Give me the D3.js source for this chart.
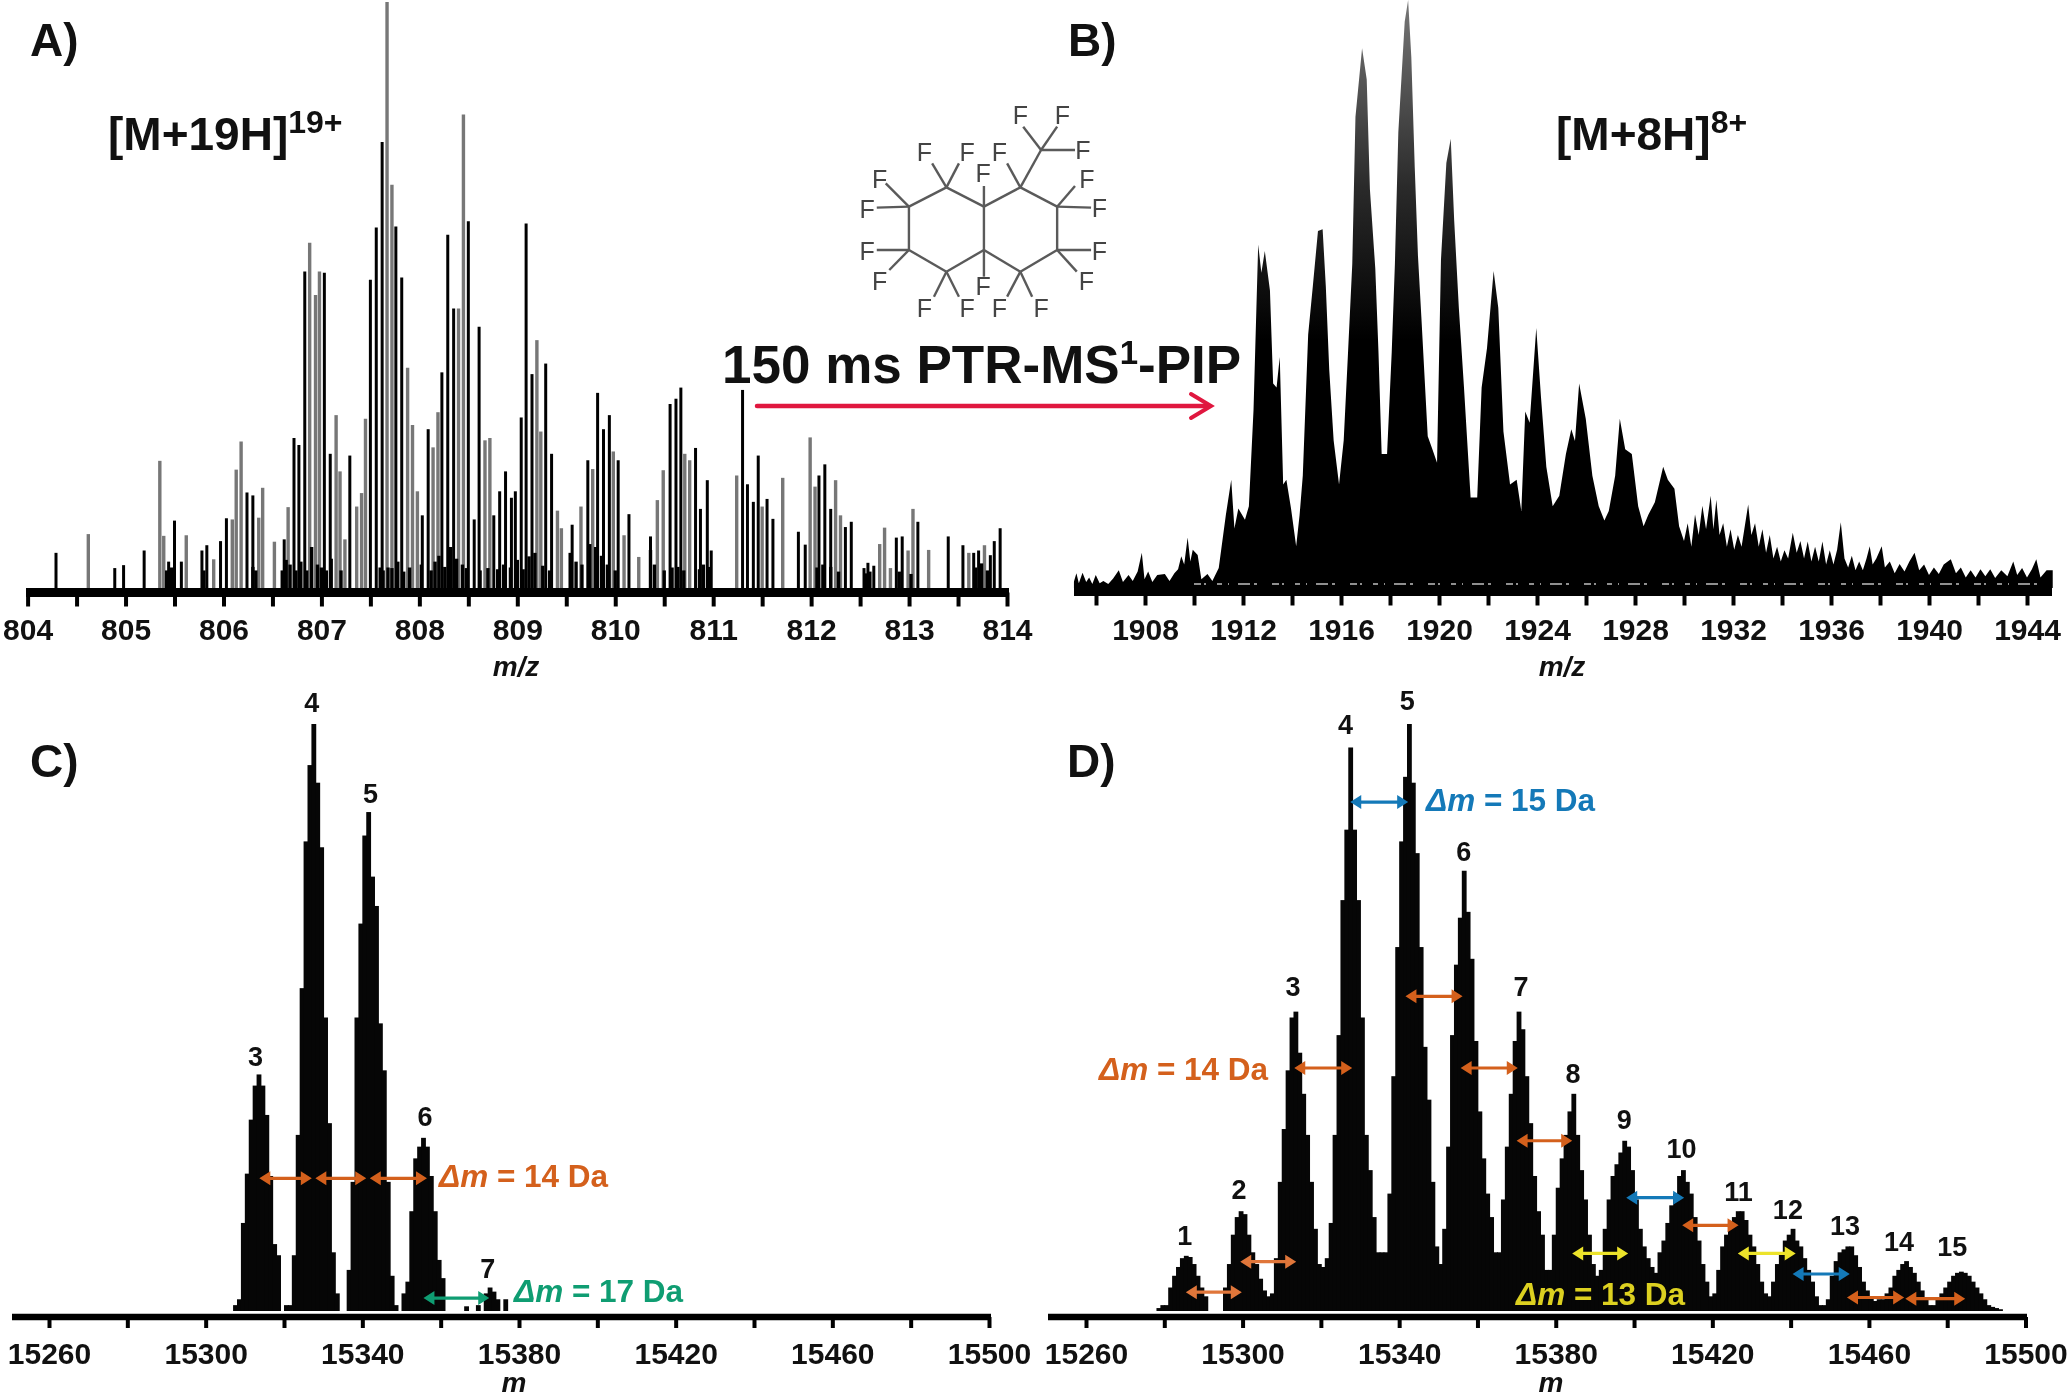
<!DOCTYPE html>
<html><head><meta charset="utf-8">
<script src="https://cdn.jsdelivr.net/npm/d3@7"></script>
<style>
html,body{margin:0;padding:0;background:#fff}
svg{display:block;filter:blur(0.75px)}
text{font-family:"Liberation Sans",Arial,sans-serif;font-weight:bold;fill:#111}
</style></head><body><div id="chart"></div>
<script>
// ---------- Panel A: centroid sticks [m/z, relative intensity]
const sticksBlackA=[[804.29,6],[804.89,3.4],[804.98,3.9],[805.19,6.4],[805.44,4.5],[805.5,11.5],[805.57,4.5],[805.78,6.4],[805.83,7.3],[805.97,8],[806.03,11.9],[806.24,16.3],[806.3,15.8],[806.62,8.3],[806.72,25.6],[806.77,24.4],[806.83,54],[807.03,53.8],[807.09,22.9],[807.29,22.6],[807.5,52.6],[807.56,61.5],[807.62,76.1],[807.76,61.7],[807.82,53],[808.03,12.4],[808.09,27.1],[808.23,36.8],[808.29,60.3],[808.35,47.7],[808.5,62.6],[808.56,11.7],[808.61,44.6],[808.76,12.4],[808.82,16.5],[808.88,19.9],[808.94,15.4],[808.98,16.5],[809.04,29.1],[809.09,62.2],[809.15,36.5],[809.29,38.3],[809.35,22.9],[809.56,10.8],[809.72,21.8],[809.82,33.3],[809.88,27.1],[809.94,29.5],[810.03,21.8],[810.14,12.6],[810.36,8.8],[810.56,31.4],[810.62,32.3],[810.67,34.2],[810.82,23.9],[810.87,13.5],[810.94,18.4],[810.98,6.4],[811.3,33.8],[811.35,17.7],[811.41,14.7],[811.46,22.6],[811.55,15.2],[811.61,11.8],[811.87,9.6],[811.94,7.4],[812.08,19.2],[812.14,21.1],[812.2,13.5],[812.35,10.4],[812.41,11.3],[812.54,3.4],[812.58,4.3],[812.64,3.8],[812.87,8.6],[812.93,8.8],[813.09,11.3],[813.4,8.8],[813.55,7.3],[813.66,6],[813.71,6.4],[813.83,5.6],[813.87,8],[813.93,10.2]];
const sticksGrayA=[[804.62,9.2],[805.35,21.7],[805.39,8.9],[805.62,9],[805.9,4.9],[806.09,11.7],[806.13,20.2],[806.18,25],[806.36,12],[806.4,17.1],[806.52,7.9],[806.66,13.8],[806.88,58.9],[806.94,50],[806.98,54],[807.15,29.5],[807.19,19.9],[807.24,8.3],[807.36,13.9],[807.41,16.2],[807.45,28.9],[807.67,100],[807.72,68.8],[807.88,37.6],[807.93,27.8],[807.98,16.5],[808.14,24],[808.19,30],[808.4,47.7],[808.45,80.8],[808.67,25.2],[808.72,25.6],[809.2,42.3],[809.24,26.7],[809.41,13.2],[809.45,10.2],[809.65,13.9],[809.77,20.3],[809.98,23.3],[810.09,9],[810.24,5.3],[810.43,15],[810.49,20.1],[810.71,22.9],[810.76,21.8],[811.24,19.2],[811.5,13.9],[811.71,18.8],[811.99,25.7],[812.04,17.3],[812.25,18.4],[812.3,12.4],[812.7,7.5],[812.75,10.3],[812.81,3.4],[812.99,6.4],[813.04,13.5],[813.2,6.5],[813.61,6],[813.77,7.3]];
const sticksLowA=[[805.42,3],[805.47,3.5],[805.8,3],[806.3,3.6],[806.33,3],[806.6,3],[806.64,4.8],[806.68,4],[806.74,3],[806.79,4.5],[806.85,3],[806.9,7],[806.96,4],[807,3.5],[807.05,3],[807.1,5],[807.2,3],[807.6,3.5],[807.63,3],[807.68,3.5],[807.72,3.4],[807.78,4.5],[807.84,2.8],[807.9,3.5],[808.02,4],[808.12,3],[808.16,4.5],[808.2,5.5],[808.26,3.6],[808.32,7],[808.38,5],[808.44,4],[808.48,3.4],[808.62,3],[808.7,3.4],[808.8,3.2],[808.86,4],[808.93,3.5],[809,4.8],[809.06,3.2],[809.12,5.4],[809.18,6],[809.26,3.8],[809.33,3],[809.54,6],[809.6,4.5],[809.66,4],[809.74,7.5],[809.8,7],[809.86,5.5],[809.92,4],[810,3],[810.36,6.5],[810.4,4],[810.5,3],[810.58,3.5],[810.64,3.6],[810.7,3],[810.86,3.2],[810.9,4],[810.96,3.6],[812.06,3.5],[812.12,4],[812.2,3.6],[812.28,2.8],[812.56,2.5],[812.6,2.8],[812.9,2.8],[813.02,2.4],[813.68,3.5],[813.74,4.2],[813.8,3]];
const ticksA=[804,804.5,805,805.5,806,806.5,807,807.5,808,808.5,809,809.5,810,810.5,811,811.5,812,812.5,813,813.5,814];
const tickLabelsA=["804","","805","","806","","807","","808","","809","","810","","811","","812","","813","","814"];

// ---------- Panel B: profile spectrum outline [m/z, relative intensity]
const profileB=[[1905.1,1.1],[1905.2,2.5],[1905.3,0.8],[1905.45,2.6],[1905.6,1],[1905.72,1.8],[1905.85,0.7],[1905.99,2.2],[1906.15,0.8],[1906.3,1.2],[1906.5,0.7],[1906.7,1.6],[1906.93,3],[1907.1,1],[1907.33,2.2],[1907.5,1.2],[1907.7,2.8],[1907.87,6],[1907.98,1.5],[1908.13,2.8],[1908.3,1],[1908.5,2.2],[1908.81,2.4],[1909,1.2],[1909.2,2.5],[1909.35,3.2],[1909.48,5.4],[1909.6,4],[1909.74,8.6],[1909.85,4.5],[1909.95,6.5],[1910.15,5.6],[1910.3,1.5],[1910.55,2.4],[1910.75,1.2],[1911.01,3.4],[1911.3,12.4],[1911.52,18.4],[1911.65,10.1],[1911.81,13.5],[1912.08,11.6],[1912.24,13.9],[1912.43,30.3],[1912.62,58.4],[1912.75,53.6],[1912.89,57.3],[1913.1,50.6],[1913.23,34.8],[1913.37,34.1],[1913.5,39.3],[1913.64,17.6],[1913.77,18.4],[1913.96,13.5],[1914.17,7.1],[1914.31,12.4],[1914.44,19.1],[1914.66,43.1],[1914.85,51.3],[1915.06,60.7],[1915.25,61],[1915.38,51.3],[1915.52,37.1],[1915.7,25.1],[1915.92,17.6],[1916.11,25.1],[1916.27,38.6],[1916.46,55.1],[1916.59,80.1],[1916.86,91.8],[1917.05,86.5],[1917.18,67.8],[1917.4,54.3],[1917.53,40.1],[1917.66,22.8],[1917.88,22.8],[1918.07,40.1],[1918.2,55.1],[1918.34,77.5],[1918.6,96.3],[1918.74,100],[1918.87,90.3],[1919.01,71.5],[1919.14,56.6],[1919.28,46.1],[1919.54,25.8],[1919.73,23.6],[1919.92,21.3],[1920.08,55.8],[1920.3,72.3],[1920.48,76.4],[1920.62,62.5],[1920.81,47.6],[1921.02,34.1],[1921.29,15.4],[1921.56,15.4],[1921.74,34.1],[1921.96,40.8],[1922.23,53.9],[1922.42,47.6],[1922.63,26.6],[1922.9,17.6],[1923.17,18.4],[1923.36,13.1],[1923.52,30],[1923.7,28.1],[1923.97,44.2],[1924.16,32.6],[1924.38,20.6],[1924.64,13.9],[1924.91,15.7],[1925.18,22.8],[1925.4,27],[1925.55,25],[1925.72,34.8],[1925.99,28.8],[1926.26,19.1],[1926.52,13.9],[1926.75,11.5],[1926.93,13.1],[1927.19,19.1],[1927.38,28.8],[1927.6,23.6],[1927.87,22.8],[1928.13,13.9],[1928.35,10.5],[1928.54,12.4],[1928.81,14.6],[1929.15,20.6],[1929.34,18.4],[1929.61,16.9],[1929.8,10.5],[1930,8],[1930.15,11],[1930.3,7],[1930.45,12.5],[1930.6,9],[1930.75,14],[1930.9,10],[1931.09,15.7],[1931.2,10],[1931.32,15],[1931.45,9],[1931.6,11],[1931.75,7],[1931.9,10],[1932.05,6.5],[1932.2,9],[1932.35,7],[1932.5,11],[1932.62,14.2],[1932.75,9],[1932.9,11],[1933.05,7],[1933.2,10],[1933.35,6],[1933.5,9],[1933.65,5],[1933.8,7],[1933.95,4.5],[1934.1,6.4],[1934.25,5],[1934.44,9.4],[1934.6,6],[1934.75,8],[1934.9,5],[1935.05,7.9],[1935.2,4.5],[1935.35,7],[1935.5,4.5],[1935.65,7.9],[1935.8,4],[1935.95,6.4],[1936.1,4],[1936.25,6.5],[1936.4,11.2],[1936.55,5],[1936.7,3.5],[1936.85,5.5],[1937,3],[1937.15,4.5],[1937.3,3],[1937.45,5],[1937.58,7.1],[1937.7,4],[1937.85,5],[1938.07,7.1],[1938.2,3.5],[1938.4,4.5],[1938.6,2.5],[1938.8,4.1],[1939,2.8],[1939.2,4.5],[1939.41,6],[1939.6,3],[1939.8,4],[1940,2.2],[1940.2,3.5],[1940.4,2.4],[1940.6,4],[1940.89,4.9],[1941.1,2.5],[1941.3,3.5],[1941.5,1.8],[1941.7,3],[1941.9,1.8],[1942.1,3.2],[1942.3,2],[1942.5,3.2],[1942.7,1.7],[1942.95,3],[1943.2,2],[1943.44,4.5],[1943.6,2.2],[1943.8,3.4],[1944,1.8],[1944.2,3.2],[1944.38,4.9],[1944.55,1.8],[1944.8,3],[1945.05,3]];
const ticksB=[1906,1908,1910,1912,1914,1916,1918,1920,1922,1924,1926,1928,1930,1932,1934,1936,1938,1940,1942,1944];
const tickLabelsB=["","1908","","1912","","1916","","1920","","1924","","1928","","1932","","1936","","1940","","1944"];

// ---------- Panels C / D: deconvoluted mass spectra, one value per integer mass
const massesC=[15307,15308,15309,15310,15311,15312,15313,15314,15315,15316,15317,15318,15319,15320,15321,15322,15323,15324,15325,15326,15327,15328,15329,15330,15331,15332,15333,15336,15337,15338,15339,15340,15341,15342,15343,15344,15345,15346,15347,15348,15350,15351,15352,15353,15354,15355,15356,15357,15358,15359,15360,15366,15369,15371,15372,15373,15374,15376];
const valuesC=[1,2,15,23.4,32.6,38.4,40.3,38.4,33.4,23,11.4,9.5,0,1,1,9.5,30,55,80,93,100,90,79,50,32,10,3,7,22,50,66,81,85,74,69,49,41,22,6,1,3,5,17,26,28,29.5,28,23,17,8.7,5.6,0.8,1,3,4,3.3,2,2];
const massStartD=15278;
const valuesD=[0.5,1,1,4,6,7.5,9,9.4,9.2,8,6,4,2.5,0,0,0,0,4,8,13,16,17,16.5,13,10,8,5.5,3.5,2.5,3,9,22,31,41,50,51,44,37,30,22,14,8,7.5,9,15,30,47,70,82,96,82,70,50,30,24,16,10,10,10,20,40,62,80,91,100,90,78,62,45,36,22,11,8,14,28,47,59,67,75,68,60,46,34,26,20,16,10,10,19,28,37,46,51,48,40,32,23,17,13,7,7,13,21,26,30,34,37,30,24,19,13,8,6,7,14,19,23,25,27,29,28,24,19,14,11,9,7.5,6.5,10,12,15,18,20,23,24,22,20,16,12,8,5,2.5,3,7,11,13,15,16,17,17,15.5,13,11,8,5,3,2.5,5,8,10,12,13,14,12,11,9,7,5,2.5,1,1,2,6,8.5,10,10.5,11,11,9.5,7.5,5,3.5,2.5,1.7,2,2,3,4,6,7,8,8.5,7.5,6.5,5,3.5,2,1,1,2,3,4,5,6,6.5,6.7,6.5,6,5,4,3,2,1,0.7,0.5,0.3];
const ticksM=[15260,15280,15300,15320,15340,15360,15380,15400,15420,15440,15460,15480,15500];
const tickLabelsM=["15260","","15300","","15340","","15380","","15420","","15460","","15500"];

// peak number labels: text, mass, intensity level
const labelTextC=["3","4","5","6","7"];
const labelMassC=[15312.7,15327.1,15342.1,15356,15372];
const labelLevelC=[41.8,102,86.5,31.5,5.6];
const labelTextD=["1","2","3","4","5","6","7","8","9","10","11","12","13","14","15"];
const labelMassD=[15285.2,15299.1,15312.9,15326.3,15342.1,15356.5,15371.1,15384.4,15397.5,15412.1,15426.7,15439.3,15453.9,15467.7,15481.3];
const labelLevelD=[11.3,19,53.6,98.3,102.3,76.7,53.6,38.9,31,26,18.7,15.6,12.9,10.2,9.4];

// mass-difference arrows: from, to, level, colour key
const arrowsC=[[15313.7,15327.1,22.6,"o"],[15328,15341,22.6,"o"],[15341.9,15356.5,22.6,"o"],[15355.6,15372.4,2.2,"g"]];
const arrowsD=[[15285.5,15299.8,3.2,"l"],[15299.4,15313.7,8.4,"l"],[15313.2,15328,41.4,"o"],[15341.6,15356.2,53.6,"o"],[15355.7,15370.3,41.4,"o"],[15370,15384.2,29,"o"],[15412.3,15426.7,14.6,"o"],[15454.4,15469,2.3,"o"],[15469.3,15484.6,2.1,"o"],[15327.5,15342.3,86.7,"b"],[15398,15412.8,19.3,"b"],[15440.5,15455.1,6.3,"b"],[15384.2,15398.5,9.8,"y"],[15426.5,15441.3,9.8,"y"]];
const arrowColours={o:"#d4601c",l:"#e0763a",g:"#0f9d72",b:"#1479b8",y:"#ece32a"};

// ---------- Perfluorodecalin sketch (bonds between atoms, fluorine ends)
const ringAtoms=[[690,322],[795,380],[897,322],[1000,380],[1000,510],[897,575],[795,510],[690,575],[585,510],[585,380]];
const ringBonds=[[0,1],[1,2],[2,3],[3,4],[4,5],[5,6],[6,7],[7,8],[8,9],[9,0],[1,6]];
const fluorineBonds=[[955,210,905,140,897,105],[955,210,1000,140,1015,105],[955,210,1050,210,1072,210],[897,322,860,250,838,215],[690,322,650,250,628,215],[690,322,725,250,748,215],[795,380,795,318,793,280],[585,380,520,310,503,298],[585,380,495,383,468,388],[1000,380,1050,318,1083,298],[1000,380,1095,383,1118,385],[585,510,495,510,468,512],[585,510,530,570,503,603],[1000,510,1095,510,1118,512],[1000,510,1055,575,1082,603],[690,575,655,650,628,685],[690,575,725,650,748,685],[795,510,795,590,793,618],[897,575,860,650,838,685],[897,575,930,650,955,685]];
const methylBond=[897,322,955,210];

const svg=d3.select("#chart").append("svg").attr("width",2070).attr("height",1399);
const xA=d3.scaleLinear().domain([804,814]).range([27.6,1007]);
const yA=d3.scaleLinear().domain([0,100]).range([588,2]);
const xB=d3.scaleLinear().domain([1908,1944]).range([1145,2027]);
const yB=d3.scaleLinear().domain([0,100]).range([588,0]);
const xC=d3.scaleLinear().domain([15260,15500]).range([49,989]);
const xD=d3.scaleLinear().domain([15260,15500]).range([1086,2025.5]);
const yM=d3.scaleLinear().domain([0,100]).range([1311,724]);

function sticks(data,x,y,colour,w){
  svg.append("g").selectAll("line").data(data).join("line")
    .attr("x1",d=>x(d[0])).attr("x2",d=>x(d[0])).attr("y1",y(0)).attr("y2",d=>y(d[1]))
    .attr("stroke",colour).attr("stroke-width",w);
}
sticks(sticksGrayA,xA,yA,"#777",3.4);
sticks(sticksBlackA,xA,yA,"#000",3);
sticks(sticksLowA,xA,yA,"#000",3.4);

// Panel B: dark gray tips fading to black towards the base
const grad=svg.append("defs").append("linearGradient").attr("id","tipsB")
  .attr("gradientUnits","userSpaceOnUse").attr("x1",0).attr("x2",0).attr("y1",0).attr("y2",340);
[[0,"#777"],[0.55,"#2a2a2a"],[1,"#000"]].forEach(s=>grad.append("stop").attr("offset",s[0]).attr("stop-color",s[1]));
svg.append("path").datum(profileB)
  .attr("d",d3.area().x(d=>xB(d[0])).y0(yB(0)).y1(d=>yB(d[1])))
  .attr("fill","url(#tipsB)");
svg.append("line").attr("x1",xB(1910)).attr("x2",xB(1945)).attr("y1",yB(0.7)).attr("y2",yB(0.7))
  .attr("stroke","#fff").attr("stroke-width",1.5).attr("stroke-opacity",0.75).attr("stroke-dasharray","7 3 2 11 5 6 1 9 12 4 3 15");

// Panels C, D
function bars(ms,vs,x){
  svg.append("g").selectAll("rect").data(ms.map((m,i)=>[m,vs[i]])).join("rect")
    .attr("x",d=>x(d[0])).attr("width",d=>x(d[0]+1)-x(d[0])+0.9)
    .attr("y",d=>yM(d[1])).attr("height",d=>yM(0)-yM(d[1])).attr("fill","#060606");
}
bars(massesC,valuesC,xC);
bars(valuesD.map((v,i)=>massStartD+i),valuesD,xD);

function axis(x,ty,ticks,labels,size,pad,band,extent){
  const ax=d3.axisBottom(x).tickValues(ticks).tickSize(size).tickPadding(pad).tickSizeOuter(0)
    .tickFormat(d=>labels[ticks.indexOf(d)]);
  const g=svg.append("g").attr("transform",`translate(0,${ty})`).call(ax);
  g.select(".domain").remove();
  g.append("line").attr("x1",extent[0]).attr("x2",extent[1]).attr("stroke","#000").attr("stroke-width",band);
  g.selectAll(".tick line").attr("stroke","#000").attr("stroke-width",4);
  g.selectAll(".tick text").attr("fill","#111").style("font-size","30px").style("font-family",'"Liberation Sans",Arial,sans-serif').style("font-weight","bold");
}
axis(xA,592.5,ticksA,tickLabelsA,14,12,9,[26,1009]);
axis(xB,591.5,ticksB,tickLabelsB,14,13,9,[1074,2052]);
axis(xC,1317,ticksM,tickLabelsM,11,15,6.5,[12,991]);
axis(xD,1317,ticksM,tickLabelsM,11,15,6.5,[1048,2027]);

function label(t,x,y,size,anchor,extra){
  const s=svg.append("text").attr("x",x).attr("y",y).style("font-size",size+"px").attr("text-anchor",anchor||"start").text(t);
  if(extra) s.style("font-style",extra);
  return s;
}
const panels=[["A)",30,56],["B)",1068,56],["C)",30,777],["D)",1067,777]];
panels.forEach(p=>label(p[0],p[1],p[2],46));

function withSup(x,y,size,supSize,parts){
  const t=svg.append("text").attr("x",x).attr("y",y).style("font-size",size+"px");
  let up=false;
  parts.forEach(p=>{
    const shift=p.sup&&!up?-size*0.36:(!p.sup&&up?size*0.36:0);
    t.append("tspan").attr("dy",shift).style("font-size",(p.sup?supSize:size)+"px").text(p.t);
    up=!!p.sup;
  });
}
withSup(108,150,46,32,[{t:"[M+19H]"},{t:"19+",sup:1}]);
withSup(1556,150,46,32,[{t:"[M+8H]"},{t:"8+",sup:1}]);
withSup(722,383,53,33,[{t:"150 ms PTR-MS"},{t:"1",sup:1},{t:"-PIP"}]);

// axis titles
label("m/z",516,676,28,"middle","italic");
label("m/z",1562,676,28,"middle","italic");
label("m",514,1392,28,"middle","italic");
label("m",1551,1392,28,"middle","italic");

// peak numbers
function peakLabels(txt,ms,ls,x){
  svg.append("g").selectAll("text").data(txt).join("text")
    .attr("x",(d,i)=>x(ms[i])).attr("y",(d,i)=>yM(ls[i])).attr("text-anchor","middle")
    .style("font-size","27px").text(d=>d);
}
peakLabels(labelTextC,labelMassC,labelLevelC,xC);
peakLabels(labelTextD,labelMassD,labelLevelD,xD);

// arrows
function dArrows(list,x){
  const g=svg.append("g");
  list.forEach(a=>{
    const x1=x(a[0]),x2=x(a[1]),y=yM(a[2]),c=arrowColours[a[3]];
    g.append("line").attr("x1",x1+4).attr("x2",x2-4).attr("y1",y).attr("y2",y).attr("stroke",c).attr("stroke-width",3.2);
    g.append("path").attr("fill",c).attr("d",`M${x1},${y}l11,-7v14z M${x2},${y}l-11,-7v14z`);
  });
}
dArrows(arrowsC,xC);
dArrows(arrowsD,xD);

function delta(x,y,colour,rest){
  const t=svg.append("text").attr("x",x).attr("y",y).style("font-size","31.5px");
  t.append("tspan").style("font-style","italic").style("fill",colour).text("Δm");
  t.append("tspan").style("fill",colour).text(" = "+rest);
}
delta(439,1187,arrowColours.o,"14 Da");
delta(514,1302,arrowColours.g,"17 Da");
delta(1099,1080,arrowColours.o,"14 Da");
delta(1426,811,arrowColours.b,"15 Da");
delta(1516,1304.5,"#dcd020","13 Da");

// molecule
const mxx=X=>700+X/2.8, myy=Y=>80+Y/3;
const mol=svg.append("g").attr("stroke","#5a5a5a").attr("stroke-width",2.4);
ringBonds.forEach(b=>{const p=ringAtoms[b[0]],q=ringAtoms[b[1]];
  mol.append("line").attr("x1",mxx(p[0])).attr("y1",myy(p[1])).attr("x2",mxx(q[0])).attr("y2",myy(q[1]));});
mol.append("line").attr("x1",mxx(methylBond[0])).attr("y1",myy(methylBond[1])).attr("x2",mxx(methylBond[2])).attr("y2",myy(methylBond[3]));
fluorineBonds.forEach(f=>{
  mol.append("line").attr("x1",mxx(f[0])).attr("y1",myy(f[1])).attr("x2",mxx(f[2])).attr("y2",myy(f[3]));
  svg.append("text").attr("x",mxx(f[4])).attr("y",myy(f[5])+9).attr("text-anchor","middle")
    .style("font-size","25px").style("font-weight","normal").style("fill","#444").text("F");
});

// red arrow
const red=svg.append("g").attr("stroke","#e0173f").attr("fill","none").attr("stroke-linecap","round");
red.append("line").attr("x1",757).attr("x2",1209).attr("y1",406).attr("y2",406).attr("stroke-width",4.5);
red.append("path").attr("d","M1191,394L1211,406L1191,418").attr("stroke-width",4);
</script></body></html>
